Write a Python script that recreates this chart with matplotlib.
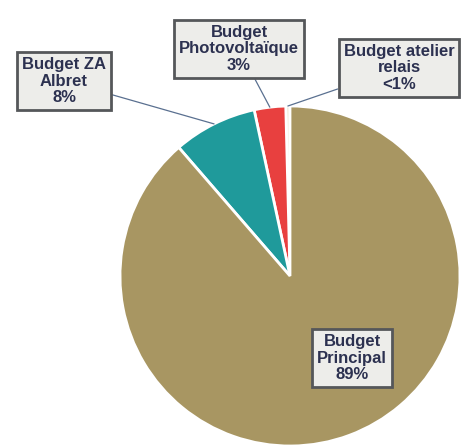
import matplotlib.pyplot as plt
import numpy as np

labels = ["Budget atelier\nrelais\n<1%", "Budget\nPhotovoltaïque\n3%",
          "Budget ZA\nAlbret\n8%", "Budget\nPrincipal\n89%"]
values = [0.4, 3, 8, 89]
colors = ["#efe6cf", "#e8403f", "#1f9a9b", "#a89662"]

# label box centres (pixel-style coordinates, y up)
box_pos = [(399, 378), (239, 397), (64, 365), (352, 88)]

fig = plt.figure(figsize=(4.65, 4.46), dpi=100)
ax = fig.add_axes([0, 0, 1, 1])

cx, cy, r = 290, 170, 170
wedges, _ = ax.pie(values, colors=colors, startangle=90, counterclock=True,
                   center=(cx, cy), radius=r, frame=True,
                   wedgeprops=dict(edgecolor="white", linewidth=2))
ax.set_xlim(0, 465)
ax.set_ylim(0, 446)
ax.set_aspect("equal")
ax.axis("off")

box = dict(boxstyle="square,pad=0.3", fc="#ededea", ec="#55575a", lw=2)
txt = dict(ha="center", va="center", fontsize=12, fontweight="bold",
           color="#2c3150", family="Liberation Sans", bbox=box,
           linespacing=1.15)
for i, (w, lab, pos) in enumerate(zip(wedges, labels, box_pos)):
    if i == 3:
        ax.text(pos[0], pos[1], lab, **txt)
        continue
    ang = np.deg2rad((w.theta1 + w.theta2) / 2)
    px, py = cx + r * np.cos(ang), cy + r * np.sin(ang)
    ax.annotate(lab, xy=(px, py), xytext=pos,
                arrowprops=dict(arrowstyle="-", color="#5a7090", lw=0.9,
                                shrinkA=0, shrinkB=0), **txt)

fig.savefig("out.png", dpi=100, facecolor="white")
